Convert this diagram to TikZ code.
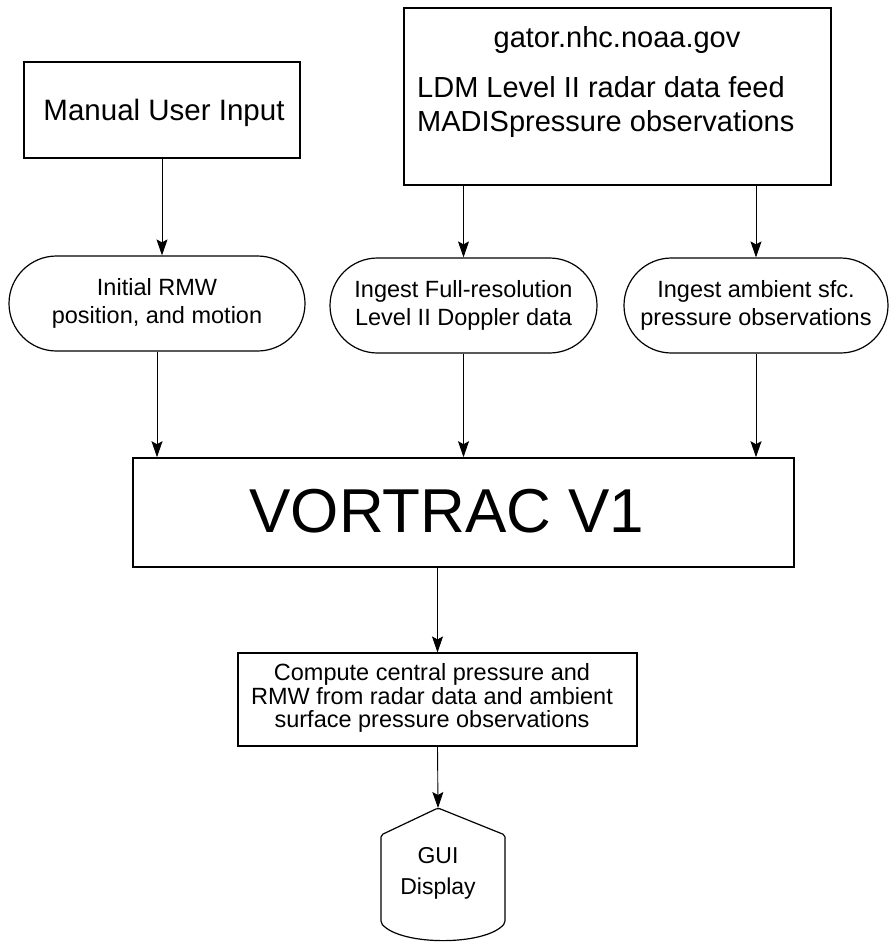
\documentclass[tikz,border=0pt]{standalone}
\usepackage{fontspec}
\setmainfont{Liberation Sans}
\usetikzlibrary{shapes.misc,arrows.meta}
\begin{document}
\begin{tikzpicture}[x=1pt,y=-1pt,
 box/.style={draw, line width=1.6pt, inner sep=0pt},
 pill/.style={draw, rounded rectangle, line width=1.2pt, inner sep=0pt, align=center, font=\fontsize{23.5}{28}\selectfont},
 arr/.style={line width=0.9pt, -{Stealth[length=16pt,width=11pt,inset=3pt]}},
 lbl/.style={inner sep=0pt, align=center}]
\useasboundingbox (0,0) rectangle (890,943);
\node[box, minimum width=276pt, minimum height=96pt] (manual) at (162,110) {};
\node[lbl, font=\fontsize{29.5}{34}\selectfont] (manualtext) at (164,113) {Manual User Input};
\node[box, minimum width=427pt, minimum height=177pt] (gator) at (617.5,96.5) {};
\node[lbl, font=\fontsize{29}{32}\selectfont] (gatorname) at (617,40) {gator.nhc.noaa.gov};
\node[lbl, anchor=west, font=\fontsize{29}{32}\selectfont] (ldm) at (417,87) {LDM Level II radar data feed};
\node[lbl, anchor=west, font=\fontsize{29}{32}\selectfont] (madis) at (417,124) {MADISpressure observations};
\node[pill, minimum width=296pt, minimum height=95pt] (initial) at (157,303.5) {Initial RMW\\position, and motion};
\node[pill, minimum width=267pt, minimum height=95pt] (full) at (463.5,305.5) {Ingest Full-resolution\\Level II Doppler data};
\node[pill, minimum width=264pt, minimum height=95pt] (amb) at (756,305.5) {Ingest ambient sfc.\\pressure observations};
\node[box, minimum width=661pt, minimum height=109pt] (vortrac) at (463.5,512.5) {};
\node[lbl, font=\fontsize{62}{70}\selectfont] (vortext) at (447,511) {VORTRAC V1};
\node[draw, line width=1.1pt, inner sep=0pt, minimum width=399pt, minimum height=93pt] (compute) at (437.5,699.5) {};
\node[lbl, font=\fontsize{23.5}{23.5}\selectfont] (computetext) at (432,698) {Compute central pressure and\\RMW from radar data and ambient\\surface pressure observations};
\coordinate (guitop) at (438,808);
\draw[line width=1.2pt, rounded corners=2pt] (guitop) -- (505,835) -- (505,923) .. controls (485,946) and (401,946) .. (381,923) -- (381,835) -- cycle;
\node[lbl, font=\fontsize{23}{31}\selectfont] (gui) at (438,873) {GUI\\Display};
\draw[arr] (manual.south) -- (manual.south |- initial.north);
\draw[arr] (gator.south -| full.north) -- (full.north);
\draw[arr] (gator.south -| amb.north) -- (amb.north);
\draw[arr] (initial.south) -- (initial.south |- vortrac.north);
\draw[arr] (full.south) -- (full.south |- vortrac.north);
\draw[arr] (amb.south) -- (amb.south |- vortrac.north);
\draw[arr] (compute.north |- vortrac.south) -- (compute.north);
\draw[arr] (compute.south) -- (guitop);
\end{tikzpicture}
\end{document}
